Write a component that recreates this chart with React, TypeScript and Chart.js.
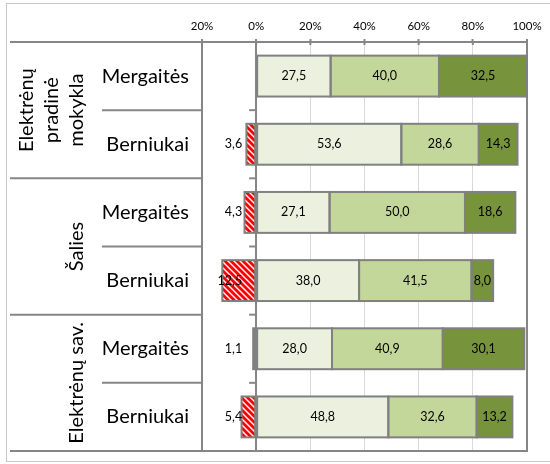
import React, { useEffect, useRef } from "react";
import { Chart, registerables } from "chart.js";

Chart.register(...registerables);

const groupLabels: string[][] = [["Elektrėnų", "pradinė", "mokykla"], ["Šalies"], ["Elektrėnų sav."]];
const subLabels: string[] = ["Mergaitės", "Berniukai", "Mergaitės", "Berniukai", "Mergaitės", "Berniukai"];
const negValues: (number | null)[] = [null, 3.6, 4.3, 12.5, 1.1, 5.4];
const lowValues: number[] = [27.5, 53.6, 27.1, 38.0, 28.0, 48.8];
const midValues: number[] = [40.0, 28.6, 50.0, 41.5, 40.9, 32.6];
const highValues: number[] = [32.5, 14.3, 18.6, 8.0, 30.1, 13.2];
const tickValues: number[] = [-20, 0, 20, 40, 60, 80, 100];

const FONT = "Lato, 'Open Sans', sans-serif";
const LINE = "#868686";

function makeHatch(): CanvasPattern | string {
  const c = document.createElement("canvas");
  c.width = 6;
  c.height = 6;
  const g = c.getContext("2d");
  if (!g) return "#ff0000";
  g.fillStyle = "#ffffff";
  g.fillRect(0, 0, 6, 6);
  g.strokeStyle = "#ff0000";
  g.lineWidth = 2.8;
  for (const k of [-6, 0, 6]) {
    g.beginPath();
    g.moveTo(k - 1, -1);
    g.lineTo(k + 7, 7);
    g.stroke();
  }
  return g.createPattern(c, "repeat") || "#ff0000";
}

const fmt = (v: number) => v.toFixed(1).replace(".", ",");

const tablePlugin = {
  id: "tablePlugin",
  beforeDraw(chart: any) {
    const ctx = chart.ctx;
    ctx.save();
    ctx.strokeStyle = "#c8c8c8";
    ctx.lineWidth = 1;
    ctx.strokeRect(6.5, 3.5, 700, 458);
    ctx.restore();
  },
  afterDatasetsDraw(chart: any) {
    const ctx = chart.ctx;
    const xs = chart.scales.x;
    const x0 = xs.getPixelForValue(0);
    ctx.save();
    // outlines
    ctx.strokeStyle = "#808080";
    ctx.lineWidth = 2;
    chart.data.datasets.forEach((ds: any, di: number) => {
      const meta = chart.getDatasetMeta(di);
      meta.data.forEach((el: any, i: number) => {
        const v = ds.data[i];
        if (v === null || v === undefined) return;
        const l = Math.min(el.x, el.base);
        const w = Math.abs(el.x - el.base);
        ctx.strokeRect(l, el.y - el.height / 2, w, el.height);
      });
    });
    ctx.fillStyle = "#000";
    ctx.font = `12.5px ${FONT}`;
    ctx.textBaseline = "middle";
    chart.data.datasets.forEach((ds: any, di: number) => {
      const meta = chart.getDatasetMeta(di);
      meta.data.forEach((el: any, i: number) => {
        const v = ds.data[i];
        if (v === null || v === undefined) return;
        if (di === 0) {
          ctx.textAlign = "right";
          ctx.fillText(fmt(Math.abs(v)), x0 - 14, el.y);
        } else {
          ctx.textAlign = "center";
          ctx.fillText(fmt(v), (el.x + el.base) / 2, el.y);
        }
      });
    });
    ctx.restore();
  },
  afterDraw(chart: any) {
    const ctx = chart.ctx;
    const { top, bottom, left, right } = chart.chartArea;
    const ys = chart.scales.y;
    const xs = chart.scales.x;
    const x0 = xs.getPixelForValue(0);
    const n = subLabels.length;
    const perGroup = n / groupLabels.length;
    const line = (a: number, b: number, c: number, d: number) => {
      ctx.beginPath();
      ctx.moveTo(a, b);
      ctx.lineTo(c, d);
      ctx.stroke();
    };
    ctx.save();
    ctx.strokeStyle = LINE;
    ctx.lineWidth = 2;
    line(10, top, right + 1, top);
    line(10, bottom, right + 1, bottom);
    for (let i = 0; i <= n; i++) {
      const yy = ys.getPixelForValue(i - 0.5);
      line(x0 - 7, yy, x0, yy);
    }
    for (let i = 1; i < n; i++) {
      const yy = ys.getPixelForValue(i - 0.5);
      if (i % perGroup === 0) line(10, yy, left, yy);
      else line(102, yy, left, yy);
    }
    for (const t of tickValues) {
      const xx = xs.getPixelForValue(t);
      line(xx, top, xx, top + 3);
    }
    ctx.fillStyle = "#000";
    ctx.font = `20px ${FONT}`;
    ctx.textAlign = "right";
    ctx.textBaseline = "middle";
    subLabels.forEach((s, i) => {
      ctx.fillText(s, 189, ys.getPixelForValue(i));
    });
    groupLabels.forEach((lines, gi) => {
      const y1 = ys.getPixelForValue(gi * perGroup - 0.5);
      const y2 = ys.getPixelForValue((gi + 1) * perGroup - 0.5);
      const cy = (y1 + y2) / 2;
      lines.forEach((t, li) => {
        const bx = 83 - (lines.length - 1 - li) * 25;
        ctx.save();
        ctx.translate(bx, cy);
        ctx.rotate(-Math.PI / 2);
        ctx.textAlign = "center";
        ctx.textBaseline = "alphabetic";
        ctx.fillText(t, 0, 0);
        ctx.restore();
      });
    });
    ctx.restore();
  },
};

export default function App() {
  const ref = useRef<HTMLCanvasElement | null>(null);
  useEffect(() => {
    if (!ref.current) return;
    const hatch = makeHatch();
    const common = {
      borderWidth: 0,
      borderSkipped: false,
      categoryPercentage: 0.6,
      barPercentage: 1,
    };
    const chart = new Chart(ref.current, {
      type: "bar",
      data: {
        labels: subLabels.map((s, i) => `${i}-${s}`),
        datasets: [
          { label: "neg", data: negValues.map((v) => (v === null ? null : -v)), backgroundColor: hatch as any, ...common },
          { label: "low", data: lowValues, backgroundColor: "#ebf1de", ...common },
          { label: "mid", data: midValues, backgroundColor: "#c4d79b", ...common },
          { label: "high", data: highValues, backgroundColor: "#77933c", ...common },
        ],
      },
      options: {
        indexAxis: "y",
        animation: false,
        responsive: false,
        layout: { padding: { left: 202, right: 23, bottom: 13, top: 0 } },
        plugins: { legend: { display: false }, tooltip: { enabled: false }, title: { display: false } },
        scales: {
          x: {
            type: "linear",
            position: "top",
            stacked: true,
            min: -20,
            max: 100,
            afterBuildTicks: (s: any) => {
              s.ticks = tickValues.map((v) => ({ value: v }));
            },
            afterFit: (s: any) => {
              s.height = 42;
            },
            ticks: {
              padding: 6,
              color: "#000",
              font: { family: FONT, size: 11.5 },
              callback: (v: any) => `${Math.abs(Number(v))}%`,
            },
            grid: {
              color: (c: any) => ([-20, 0, 100].includes(c.tick?.value) ? LINE : "#d9d9d9"),
              lineWidth: (c: any) => ([-20, 0, 100].includes(c.tick?.value) ? 2 : 1),
              tickColor: LINE,
              tickLength: 3,
              tickWidth: 2,
              drawTicks: true,
            },
            border: { color: LINE, width: 2 },
          },
          y: {
            type: "category",
            stacked: true,
            display: false,
          },
        },
      },
      plugins: [tablePlugin],
    } as any);
    return () => chart.destroy();
  }, []);
  return (
    <div style={{ position: "absolute", left: 0, top: 0, width: 550, height: 464, background: "#fff" }}>
      <canvas ref={ref} width={550} height={464} style={{ display: "block", width: 550, height: 464 }} />
    </div>
  );
}
